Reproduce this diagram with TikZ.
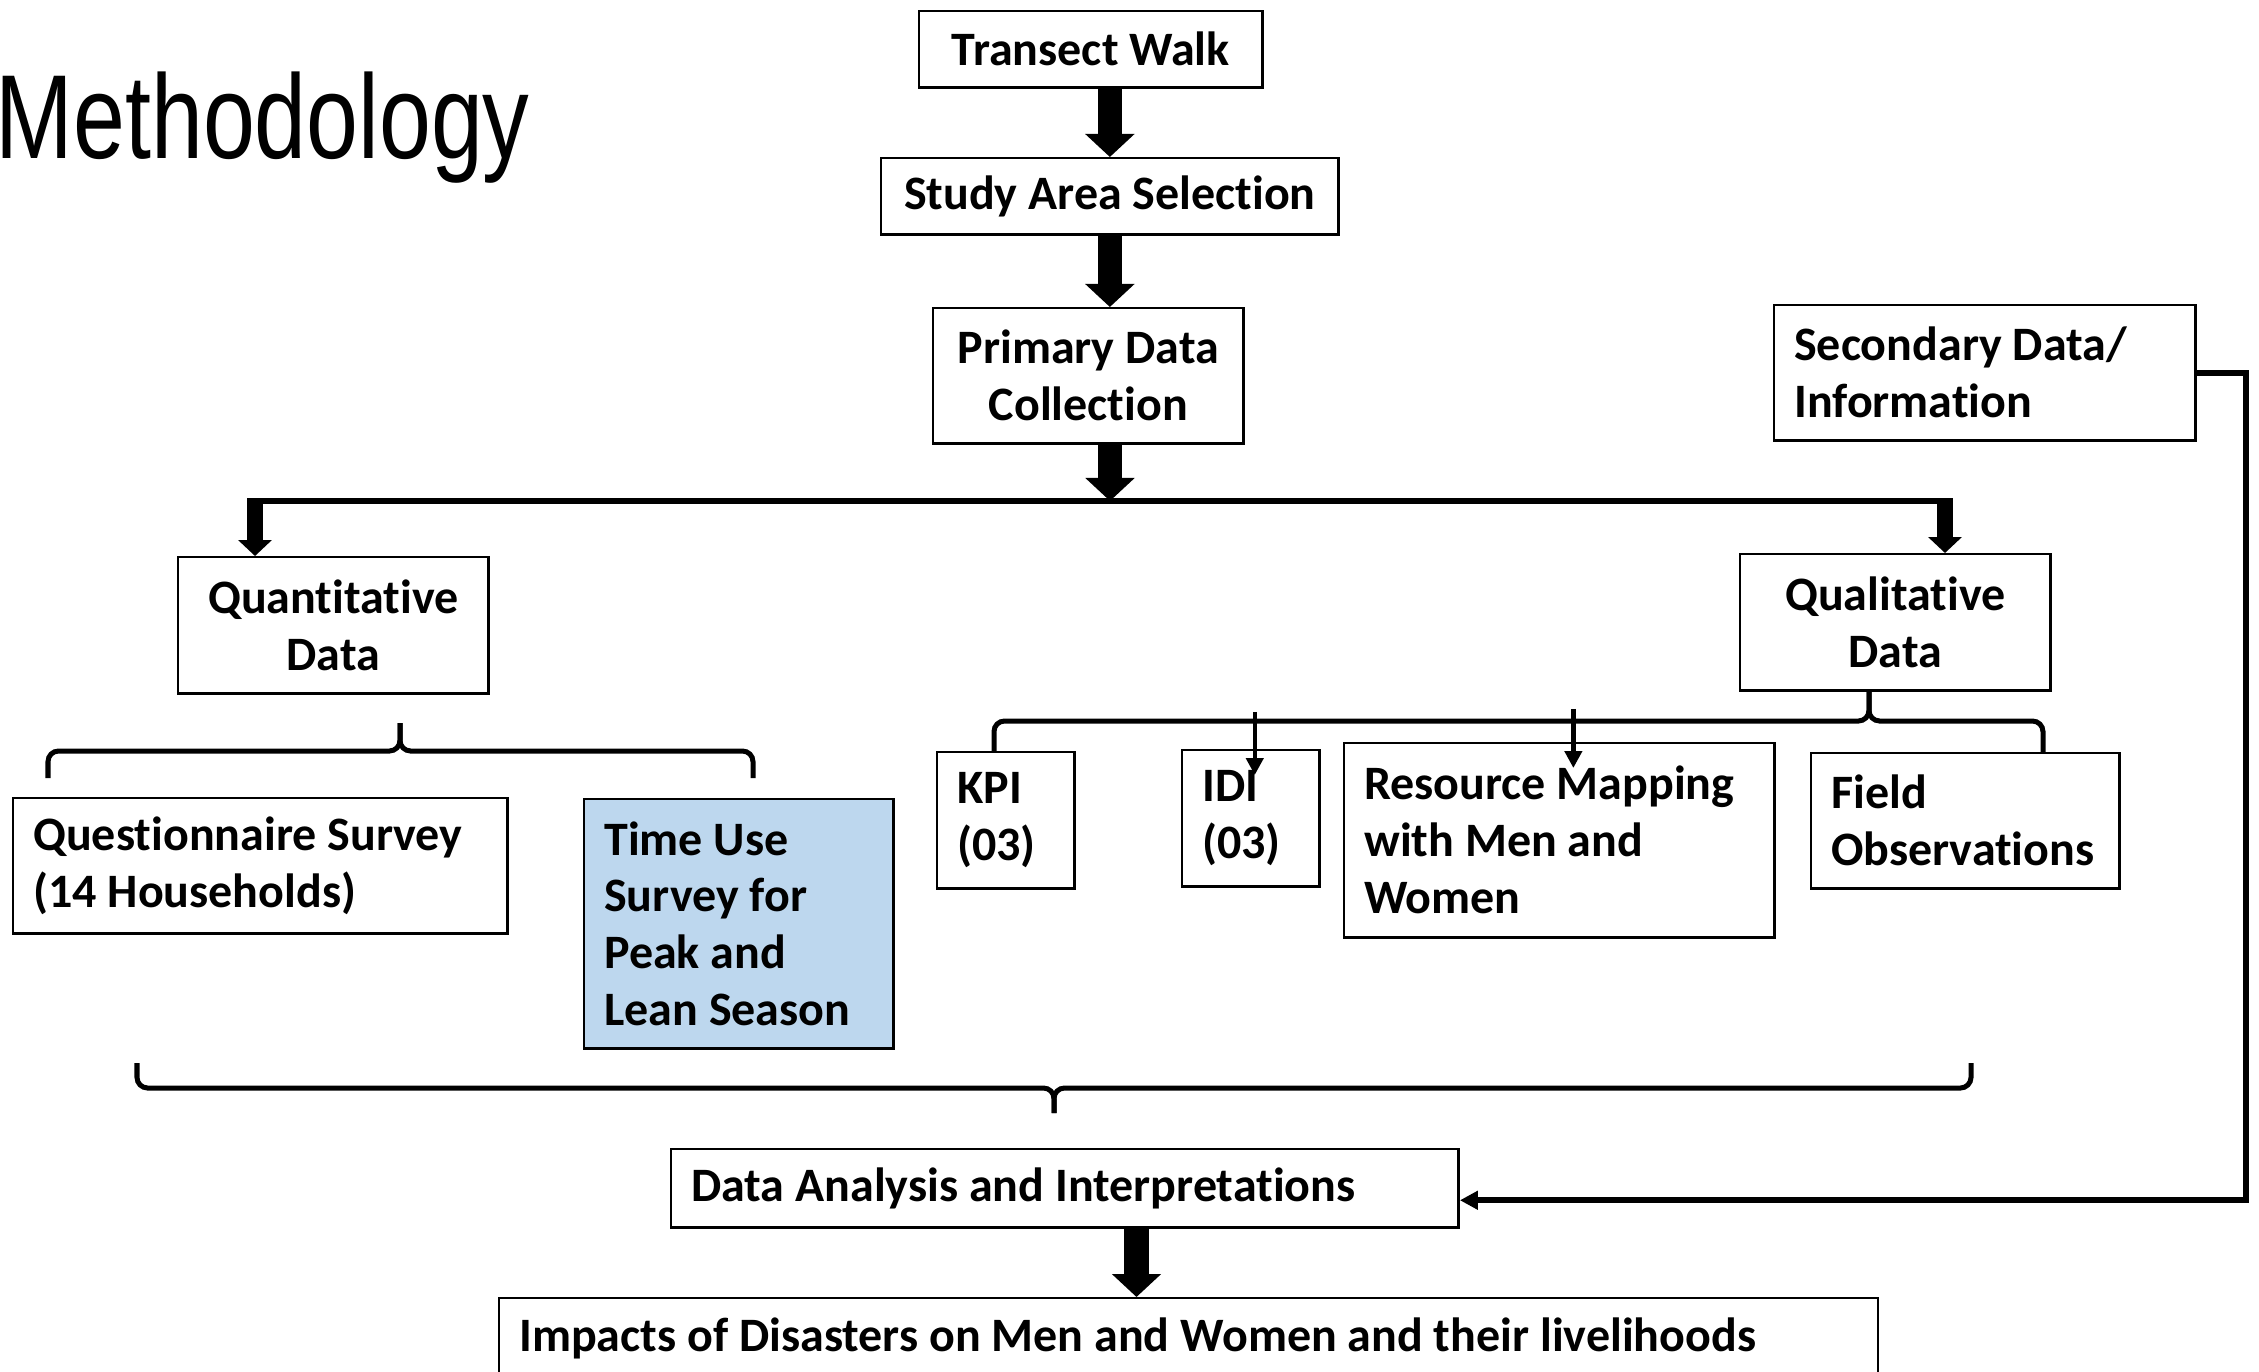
\documentclass[tikz,border=0pt]{standalone}
\usepackage{fontspec}
\setmainfont{Carlito}[Ligatures=NoCommon]
\newfontfamily\titlefont{Liberation Sans}
\usetikzlibrary{arrows.meta}

\definecolor{timeblue}{HTML}{BDD7EE}

\tikzset{
  box/.style={draw, line width=0.7pt, inner xsep=0.2cm, inner ysep=0pt, anchor=north west,
    font=\bfseries\fontsize{13.65}{16.2}\selectfont},
  bigarrow/.style={line width=0.24cm, -{Triangle[width=0.48cm,length=0.23cm]}},
  smallarrow/.style={line width=0.16cm, -{Triangle[width=0.33cm,length=0.16cm]}},
  thinarrow/.style={line width=0.045cm, -{Triangle[width=0.17cm,length=0.17cm]}},
  sideline/.style={line width=0.06cm, -{Triangle[width=0.18cm,length=0.18cm]}},
  splitbar/.style={line width=0.06cm},
  bracket/.style={line width=0.05cm, rounded corners=3pt},
}

\begin{document}
\begin{tikzpicture}[x=0.01cm, y=-0.01cm]

\useasboundingbox (0,0) rectangle (2259,1372);

% Title
\node[anchor=base west, inner sep=0pt, font=\titlefont\fontsize{34}{40}\selectfont] (title) at (-5,158) {\scalebox{0.78}[1]{Methodology}};

% Main column
\node[box, minimum width=3.43cm, minimum height=0.76cm] (walk) at (918,10) {Transect Walk};
\node[box, minimum width=4.57cm, minimum height=0.76cm] (area) at (880,157) {Study Area Selection};
\node[box, text width=2.70cm, align=flush center, minimum height=1.35cm] (primary) at (932,307) {Primary Data\\Collection};
\node[box, text width=3.81cm, align=flush left, minimum height=1.35cm] (secondary) at (1773,304) {Secondary Data/\\Information};

% Two kinds of data
\node[box, text width=2.70cm, align=flush center, minimum height=1.36cm] (quanti) at (177,556) {Quantitative\\Data};
\node[box, text width=2.70cm, align=flush center, minimum height=1.36cm] (quali) at (1739,553) {Qualitative\\Data};

% Methods
\node[box, text width=4.54cm, align=flush left, minimum height=1.35cm] (questionnaire) at (12,797) {Questionnaire Survey\\(14 Households)};
\node[box, text width=2.69cm, align=flush left, minimum height=2.49cm, fill=timeblue] (timeuse) at (583,798) {Time Use\\Survey for\\Peak and\\Lean Season};
\node[box, text width=0.97cm, align=flush left, minimum height=1.36cm] (kpi) at (936,751) {KPI\\(03)};
\node[box, text width=0.97cm, align=flush left, minimum height=1.36cm] (idi) at (1181,749) {IDI\\(03)};
\node[box, text width=3.90cm, align=flush left, minimum height=1.94cm] (mapping) at (1343,742) {Resource Mapping\\with Men and\\Women};
\node[box, text width=2.68cm, align=flush left, minimum height=1.35cm] (field) at (1810,752) {Field\\Observations};

% Results
\node[box, text width=7.47cm, align=flush left, minimum height=0.78cm] (analysis) at (670,1148) {Data Analysis and Interpretations};
\node[box, text width=13.38cm, align=flush left, minimum height=0.80cm] (impacts) at (498,1297) {Impacts of Disasters on Men and Women and their livelihoods};

% Arrows down the middle
\coordinate (split) at (1110,501);
\coordinate (leftend) at (255,501);
\coordinate (rightend) at (1945,501);
\draw[bigarrow] (walk.south -| area.north) -- (area.north);
\draw[bigarrow] (area.south) -- (area.south |- primary.north);
\draw[bigarrow] (primary.south -| split) -- (split);
\draw[splitbar] (leftend) -- (rightend);
\draw[smallarrow] ([yshift=0.03cm]leftend) -- (leftend |- quanti.north);
\draw[smallarrow] ([yshift=0.03cm]rightend) -- (rightend |- quali.north);

% Braces
\draw[bracket] (48,778) |- (400,751) -- (400,723);
\draw[bracket] (753,778) |- (400,751) -- (400,723);
\draw[bracket] (994,752) |- (1869,721) -- (1869,690);
\draw[bracket] (2043,752) |- (1869,721) -- (1869,690);
\draw[bracket] (137,1063) |- (1054,1088) -- (1054,1113);
\draw[bracket] (1971,1063) |- (1054,1088) -- (1054,1113);

% Small arrows into IDI and mapping
\draw[thinarrow] ([xshift=0.04cm,yshift=0.37cm]idi.north) -- ([xshift=0.04cm,yshift=-0.26cm]idi.north);
\draw[thinarrow] ([xshift=0.14cm,yshift=0.33cm]mapping.north) -- ([xshift=0.14cm,yshift=-0.26cm]mapping.north);

% Secondary data goes round to the analysis
\draw[sideline] (secondary.east) -- ++(49,0) |- ([yshift=-0.12cm]analysis.east);
\draw[bigarrow] ([xshift=0.715cm]analysis.south) -- ([xshift=0.715cm]analysis.south |- impacts.north);

\end{tikzpicture}
\end{document}
